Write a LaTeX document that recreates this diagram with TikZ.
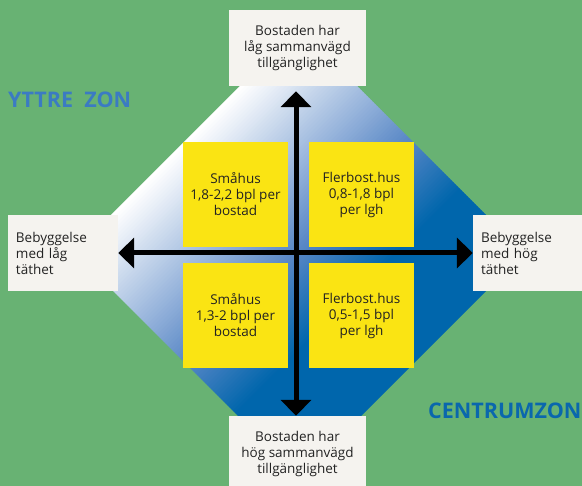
\documentclass[tikz,border=0pt]{standalone}
\usepackage{fontspec}
\setmainfont{Open Sans}
\usetikzlibrary{arrows.meta}
\definecolor{bggreen}{HTML}{68B273}
\definecolor{boxwhite}{HTML}{F5F3EF}
\definecolor{ylw}{HTML}{FAE413}
\definecolor{midblue}{HTML}{5887C6}
\definecolor{deepblue}{HTML}{0066AC}
\definecolor{yttre}{HTML}{3B7BC3}
\definecolor{centrum}{HTML}{0A67AD}
\definecolor{txt}{HTML}{222222}
\tikzset{
  labelbox/.style={fill=boxwhite, draw=none, text=txt, inner sep=0pt,
    font=\fontsize{13.5}{16}\selectfont},
  ybox/.style={fill=ylw, draw=none, text=txt, minimum width=105pt, minimum height=105pt,
    inner sep=0pt, align=center, font=\fontsize{13.5}{16}\selectfont},
  axisarrow/.style={line width=5pt, draw=black,
    {Triangle[width=30pt,length=16pt]}-{Triangle[width=30pt,length=16pt]}},
  zonetext/.style={font=\fontsize{21.5}{24}\selectfont\bfseries, inner sep=0pt, anchor=base west}
}
\begin{document}
\begin{tikzpicture}[x=1pt,y=-1pt]
\useasboundingbox (0,0) rectangle (582,486);
\fill[bggreen] (0,0) rectangle (582,486);
% gradient diamond
\begin{scope}
\clip (298.5,27.5) -- (524,253) -- (299.5,477.5) -- (74,252) -- cycle;
\foreach \s in {320,324,...,780}{
  \pgfmathsetmacro\pa{min(100,max(0,(\s+2-330)/220*100))}
  \pgfmathsetmacro\pb{min(100,max(0,(\s+2-550)/100*100))}
  \colorlet{tmpa}{midblue!\pa!white}
  \fill[deepblue!\pb!tmpa] (\s+600,-600) -- (\s-600,600) -- (\s+4.6-600,600) -- (\s+4.6+600,-600) -- cycle;
}
\end{scope}
% labels
\node[labelbox, minimum width=137pt, minimum height=76pt, align=center] (top) at (297.5,48)
  {Bostaden har\\låg sammanvägd\\tillgänglighet};
\node[labelbox, minimum width=137pt, minimum height=76pt, align=center] (bot) at (297.5,454)
  {Bostaden har\\hög sammanvägd\\tillgänglighet};
\node[labelbox, minimum width=110pt, minimum height=76pt, text width=94pt, inner xsep=8pt, align=left] (left) at (63,253)
  {Bebyggelse\\med låg\\täthet};
\node[labelbox, minimum width=110pt, minimum height=76pt, text width=94pt, inner xsep=8pt, align=left] (right) at (528,253)
  {Bebyggelse\\med hög\\täthet};
% yellow boxes
\node[ybox] (tl) at (235.5,194.5) {Småhus\\1,8-2,2 bpl per\\bostad};
\node[ybox] (tr) at (361.5,194.5) {Flerbost.hus\\0,8-1,8 bpl\\per lgh};
\node[ybox] (bl) at (235.5,315.5) {Småhus\\1,3-2 bpl per\\bostad};
\node[ybox] (br) at (361.5,315.5) {Flerbost.hus\\0,5-1,5 bpl\\per lgh};
% axes
\coordinate (vx) at (296,0);
\coordinate (hy) at (0,253);
\draw[axisarrow, shorten <=5pt] (top.south -| vx) -- (bot.north -| vx);
\draw[axisarrow] (left.east |- hy) -- (right.west |- hy);
% zone labels
\node[zonetext, text=yttre] (yz) at (8,108) {YTTRE\ \ ZON};
\node[zonetext, text=centrum] (cz) at (428,419) {CENTRUMZON};
\end{tikzpicture}
\end{document}
